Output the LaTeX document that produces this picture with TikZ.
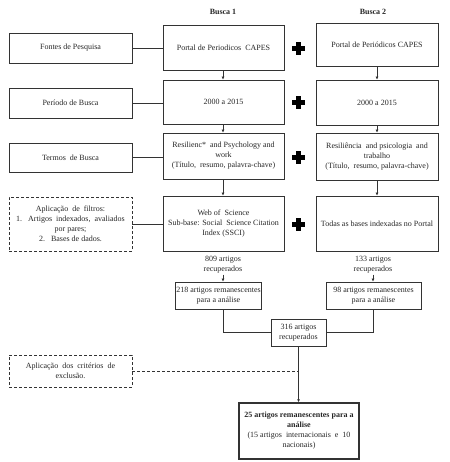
\documentclass[tikz,border=0pt]{standalone}
\usepackage{fontspec}
\setmainfont{Liberation Serif}
\usetikzlibrary{arrows.meta}
\begin{document}
\begin{tikzpicture}[x=1pt,y=-1pt,
  every node/.style={font=\fontsize{8}{10}\selectfont, text=black!85},
  box/.style={draw=black!80, line width=0.9pt, align=center, inner sep=2pt},
  dbox/.style={box, dashed, dash pattern=on 3pt off 2pt},
  lbl/.style={align=center, inner sep=1pt},
  conn/.style={draw=black!80, line width=0.9pt},
  arr/.style={conn, -{Latex[length=3pt,width=3pt]}},
  plussign/.pic={\fill[black] (-6.5,-2.5) rectangle (6.5,2.5); \fill[black] (-2.5,-6.5) rectangle (2.5,6.5);}
]
\useasboundingbox (0,0) rectangle (449,462);

\node[lbl, font=\fontsize{8}{10}\selectfont\bfseries] (busca1) at (223,12) {Busca 1};
\node[lbl, font=\fontsize{8}{10}\selectfont\bfseries] (busca2) at (373,12) {Busca 2};

% row 1
\node[box, minimum width=123pt, minimum height=30pt] (fontes) at (70.5,48) {Fontes de Pesquisa};
\node[box, minimum width=121pt, minimum height=45pt] (portal1) at (223.5,47.5) {Portal de Periodicos\ \ CAPES};
\node[box, minimum width=122pt, minimum height=43pt] (portal2) at (377,44.5) {Portal de Periódicos CAPES};
\pic at (298.5,48.5) {plussign};

% row 2
\node[box, minimum width=123pt, minimum height=30pt] (periodo) at (70.5,103) {Período de Busca};
\node[box, minimum width=121pt, minimum height=44pt] (ano1) at (223.5,102) {2000 a 2015};
\node[box, minimum width=122pt, minimum height=45pt] (ano2) at (377,102.5) {2000 a 2015};
\pic at (298.5,103) {plussign};

% row 3
\node[box, minimum width=123pt, minimum height=29pt] (termos) at (70.5,157.5) {Termos\ \ de Busca};
\node[box, minimum width=121pt, minimum height=46pt] (termos1) at (223.5,156) {Resilienc*\ \ and Psychology and\\ work\\ (Título,\ \ resumo, palavra-chave)};
\node[box, minimum width=122pt, minimum height=47pt] (termos2) at (377,156.5) {Resiliência\ \ and psicologia\ \ and\\ trabalho\\ (Título,\ \ resumo, palavra-chave)};
\pic at (298.5,158) {plussign};

% row 4
\node[dbox, minimum width=123pt, minimum height=54pt] (filtros) at (70.5,224) {Aplicação\ \ de\ \ filtros:\\ 1.\ \ \ Artigos\ \ indexados,\ \ avaliados\\ por pares;\\ 2.\ \ \ Bases de dados.};
\node[box, minimum width=121pt, minimum height=55pt] (wos) at (223.5,223.5) {Web of\ \ Science\\ Sub-base: Social\ \ Science Citation\\ Index (SSCI)};
\node[box, minimum width=122pt, minimum height=55pt] (todas) at (377,223.5) {Todas as bases indexadas no Portal};
\pic at (298.5,224) {plussign};

% counts
\node[lbl] (rec1) at (223,265) {809 artigos\\ recuperados};
\node[lbl] (rec2) at (373,265) {133 artigos\\ recuperados};
\node[box, minimum width=85pt, minimum height=27pt, inner sep=1pt] (rem1) at (218.5,295.5) {218 artigos remanescentes\\ para a análise};
\node[box, minimum width=95pt, minimum height=27pt, inner sep=1pt] (rem2) at (373.5,295.5) {98 artigos remanescentes\\ para a análise};
\node[box, minimum width=55pt, minimum height=27pt, inner sep=1pt] (total) at (298.5,332.5) {316 artigos\\ recuperados};

\node[dbox, minimum width=123pt, minimum height=32pt] (criterios) at (70.5,371) {Aplicação\ \ dos\ \ critérios\ \ de\\ exclusão.};
\node[box, line width=1.5pt, minimum width=120pt, minimum height=56pt] (final) at (299,431) {\textbf{25 artigos remanescentes para a}\\ \textbf{análise}\\ (15 artigos\ \ internacionais\ \ e\ \ 10\\ nacionais)};

% connectors
\draw[conn] (fontes.east) -- (fontes.east -| portal1.west);
\draw[conn] (periodo.east) -- (periodo.east -| ano1.west);
\draw[conn] (termos.east) -- (termos.east -| termos1.west);
\draw[conn] (filtros.east) -- (filtros.east -| wos.west);

\draw[arr] (portal1.south -| busca1) -- (ano1.north -| busca1);
\draw[arr] (ano1.south -| busca1) -- (termos1.north -| busca1);
\draw[arr] (termos1.south -| busca1) -- (wos.north -| busca1);
\draw[arr] (portal2.south -| busca2.south) ++(4,0) coordinate (p2s) -- (p2s |- ano2.north);
\draw[arr] (ano2.south -| p2s) -- (p2s |- termos2.north);
\draw[arr] (termos2.south -| p2s) -- (p2s |- todas.north);

\draw[arr] (rec1.south) -- (rec1.south |- rem1.north);
\draw[arr] (rec2.south) -- (rec2.south |- rem2.north);
\draw[conn] (rem1.south -| busca1) |- (total.west);
\draw[conn] (rem2.south -| busca2) |- (total.east);
\draw[arr] (total.south) -- (final.north -| total.south);
\draw[conn, dashed, dash pattern=on 3pt off 2pt] (criterios.east) -- (criterios.east -| total.south);
\end{tikzpicture}
\end{document}
